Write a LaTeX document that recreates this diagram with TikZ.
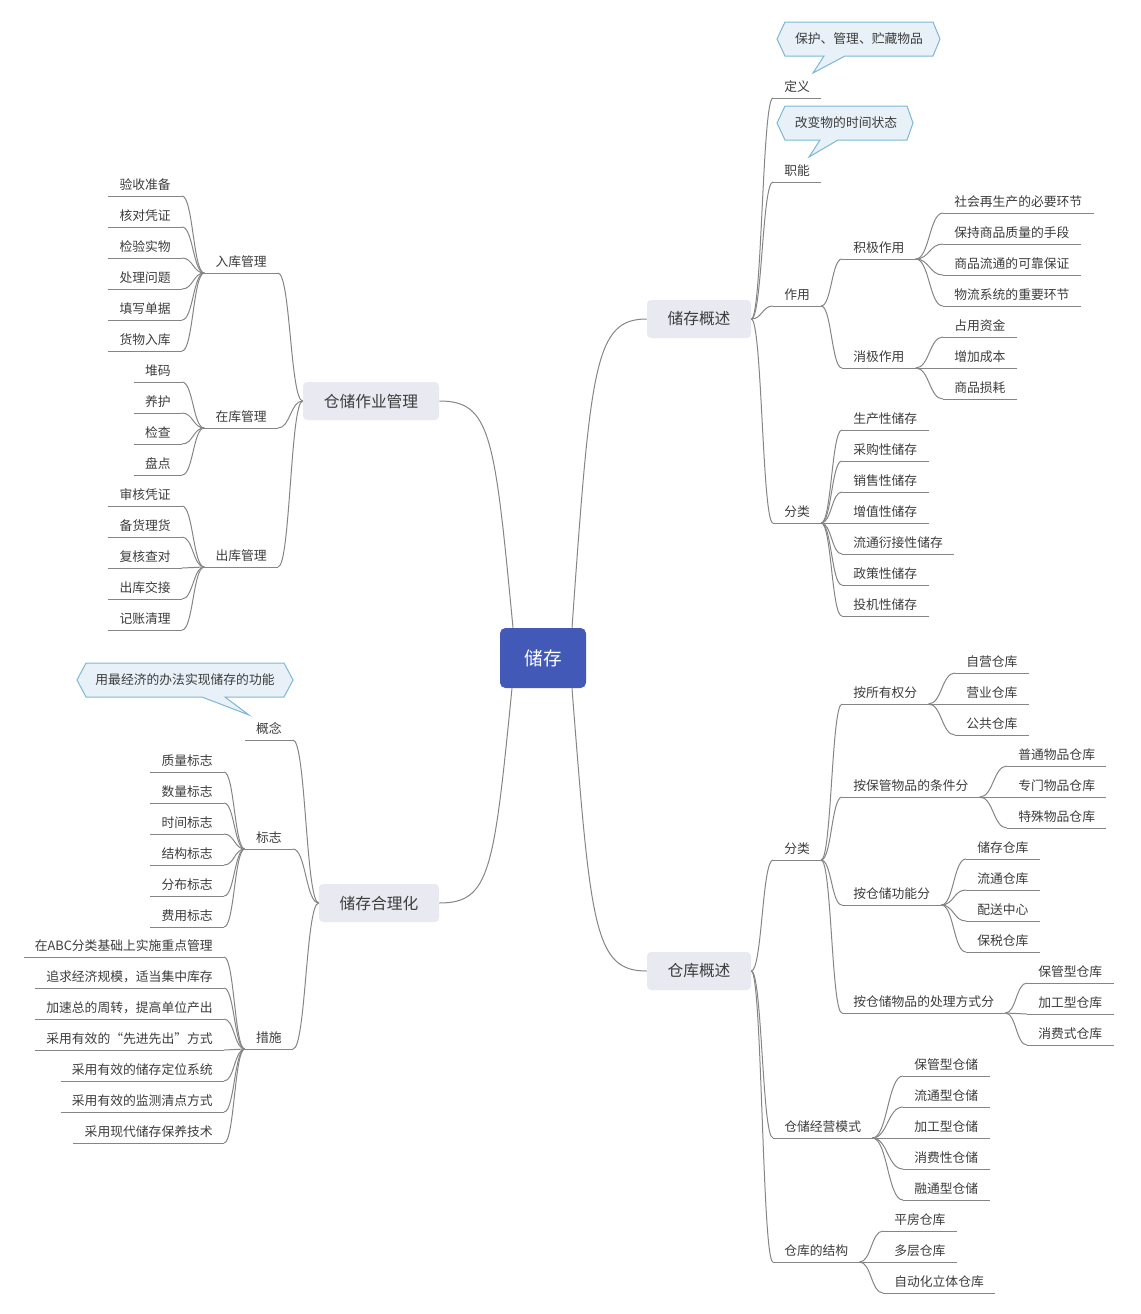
\documentclass[tikz,border=0pt]{standalone}
\usepackage{fontspec}
\setmainfont{Noto Sans CJK SC}
\usetikzlibrary{calc}
\definecolor{txt}{HTML}{3C3C3C}
\definecolor{lc}{HTML}{858585}
\definecolor{rootc}{HTML}{4259B8}
\definecolor{topc}{HTML}{E8E9F1}
\definecolor{cfill}{HTML}{E8F1F8}
\definecolor{cline}{HTML}{7DB7D5}
\newcommand\mmR[4]{\node[leaf,anchor=south west] (#1) at (#2,#3) {#4}; \draw[uline] (#1.south west) -- (#1.south east);}
\newcommand\mmL[4]{\node[leaf,anchor=south east] (#1) at (#2,#3) {#4}; \draw[uline] (#1.south west) -- (#1.south east);}
\tikzset{
  leaf/.style={font=\fontsize{9.6pt}{11pt}\selectfont, text=txt, inner xsep=8.25pt, inner ysep=0pt, text height=9pt, text depth=4.5pt},
  uline/.style={draw=lc, line width=0.75pt},
  conn/.style={draw=lc, line width=0.75pt, to path={let \p1=(\tikztostart), \p2=(\tikztotarget) in .. controls ({(\x1+\x2)/2},\y1) and ({(\x1+\x2)/2},\y2) .. (\p2)}},
  connroot/.style={draw=lc, line width=0.75pt, to path={let \p1=(\tikztostart), \p2=(\tikztotarget) in .. controls ({\x1+0.25*(\x2-\x1)},{\y1+0.85*(\y2-\y1)}) and ({\x1+0.3*(\x2-\x1)},\y2) .. (\p2)}},
  topic/.style={rounded corners=3pt, fill=topc, minimum height=28.5pt, inner sep=0pt, font=\fontsize{11.8pt}{14pt}\selectfont, text=txt},
  rootbox/.style={rounded corners=4pt, fill=rootc, minimum width=64.5pt, minimum height=45pt, inner sep=0pt, font=\fontsize{14pt}{16pt}\selectfont, text=white},
  callout/.style={fill=cfill, draw=cline, line width=0.75pt, line join=miter},
  calltext/.style={font=\fontsize{9.6pt}{11pt}\selectfont, text=txt, inner sep=0pt}
}
\begin{document}
\begin{tikzpicture}[x=0.75pt,y=-0.75pt]
\useasboundingbox (0,0) rectangle (1140,1314);
% callouts
\draw[callout] (777,39) -- (785,22) -- (933,22) -- (940,39) -- (933,56) -- (845,56) -- (813,73) -- (824,56) -- (785,56) -- cycle;
\node[calltext] (co1) at (859,39) {保护、管理、贮藏物品};
\draw[callout] (777,123) -- (785,106) -- (907,106) -- (913,123) -- (907,140) -- (838,140) -- (809,157) -- (820,140) -- (785,140) -- cycle;
\node[calltext] (co2) at (846,123) {改变物的时间状态};
\draw[callout] (77,680) -- (86,663) -- (284,663) -- (293,680) -- (284,697) -- (225,697) -- (249,715) -- (202,697) -- (86,697) -- cycle;
\node[calltext] (co3) at (185,680) {用最经济的办法实现储存的功能};
% main nodes
\node[rootbox] (root) at (543,658) {储存};
\node[topic, minimum width=78pt] (t1) at (699,319) {储存概述};
\node[topic, minimum width=78pt] (t2) at (699,971) {仓库概述};
\node[topic, minimum width=102pt] (t3) at (371,401) {仓储作业管理};
\node[topic, minimum width=90pt] (t4) at (379,903) {储存合理化};
\draw[connroot] ($(root.north)+(29,0)$) to (t1.west);
\draw[connroot] ($(root.north)+(-30,0)$) to (t3.east);
\draw[connroot] ($(root.south)+(-31,0)$) to (t4.east);
\draw[connroot] ($(root.south)+(29,0)$) to (t2.west);
% ---- t1 subtree
\mmR{d1}{773}{98}{定义}
\mmR{d2}{773}{182}{职能}
\mmR{d3}{773}{306}{作用}
\mmR{d4}{773}{523}{分类}
\mmR{e1}{842}{259}{积极作用}
\mmR{e2}{842}{368}{消极作用}
\mmR{f1}{943}{213}{社会再生产的必要环节}
\mmR{f2}{943}{244}{保持商品质量的手段}
\mmR{f3}{943}{275}{商品流通的可靠保证}
\mmR{f4}{943}{306}{物流系统的重要环节}
\mmR{g1}{943}{337}{占用资金}
\mmR{g2}{943}{368}{增加成本}
\mmR{g3}{943}{399}{商品损耗}
\mmR{h1}{842}{430}{生产性储存}
\mmR{h2}{842}{461}{采购性储存}
\mmR{h3}{842}{492}{销售性储存}
\mmR{h4}{842}{523}{增值性储存}
\mmR{h5}{842}{554}{流通衍接性储存}
\mmR{h6}{842}{585}{政策性储存}
\mmR{h7}{842}{616}{投机性储存}
\foreach \c in {d1,d2,d3,d4} \draw[conn] (t1.east) to (\c.south west);
\foreach \c in {e1,e2} \draw[conn] (d3.south east) to (\c.south west);
\foreach \c in {f1,f2,f3,f4} \draw[conn] (e1.south east) to (\c.south west);
\foreach \c in {g1,g2,g3} \draw[conn] (e2.south east) to (\c.south west);
\foreach \c in {h1,h2,h3,h4,h5,h6,h7} \draw[conn] (d4.south east) to (\c.south west);
% ---- t2 subtree
\mmR{k1}{773}{860}{分类}
\mmR{k2}{773}{1138}{仓储经营模式}
\mmR{k3}{773}{1262}{仓库的结构}
\mmR{m1}{842}{704}{按所有权分}
\mmR{m2}{842}{797}{按保管物品的条件分}
\mmR{m3}{842}{905}{按仓储功能分}
\mmR{m4}{842}{1013}{按仓储物品的处理方式分}
\mmR{n1}{955}{673}{自营仓库}
\mmR{n2}{955}{704}{营业仓库}
\mmR{n3}{955}{735}{公共仓库}
\mmR{o1}{1007}{766}{普通物品仓库}
\mmR{o2}{1007}{797}{专门物品仓库}
\mmR{o3}{1007}{828}{特殊物品仓库}
\mmR{p1}{966}{859}{储存仓库}
\mmR{p2}{966}{890}{流通仓库}
\mmR{p3}{966}{921}{配送中心}
\mmR{p4}{966}{952}{保税仓库}
\mmR{q1}{1027}{983}{保管型仓库}
\mmR{q2}{1027}{1014}{加工型仓库}
\mmR{q3}{1027}{1045}{消费式仓库}
\mmR{r1}{903}{1076}{保管型仓储}
\mmR{r2}{903}{1107}{流通型仓储}
\mmR{r3}{903}{1138}{加工型仓储}
\mmR{r4}{903}{1169}{消费性仓储}
\mmR{r5}{903}{1200}{融通型仓储}
\mmR{s1}{883}{1231}{平房仓库}
\mmR{s2}{883}{1262}{多层仓库}
\mmR{s3}{883}{1293}{自动化立体仓库}
\foreach \c in {k1,k2,k3} \draw[conn] (t2.east) to (\c.south west);
\foreach \c in {m1,m2,m3,m4} \draw[conn] (k1.south east) to (\c.south west);
\foreach \c in {n1,n2,n3} \draw[conn] (m1.south east) to (\c.south west);
\foreach \c in {o1,o2,o3} \draw[conn] (m2.south east) to (\c.south west);
\foreach \c in {p1,p2,p3,p4} \draw[conn] (m3.south east) to (\c.south west);
\foreach \c in {q1,q2,q3} \draw[conn] (m4.south east) to (\c.south west);
\foreach \c in {r1,r2,r3,r4,r5} \draw[conn] (k2.south east) to (\c.south west);
\foreach \c in {s1,s2,s3} \draw[conn] (k3.south east) to (\c.south west);
% ---- t3 subtree
\mmL{a1}{278}{273}{入库管理}
\mmL{a2}{278}{428}{在库管理}
\mmL{a3}{278}{567}{出库管理}
\mmL{bb1}{182}{196}{验收准备}
\mmL{bb2}{182}{227}{核对凭证}
\mmL{bb3}{182}{258}{检验实物}
\mmL{bb4}{182}{289}{处理问题}
\mmL{bb5}{182}{320}{填写单据}
\mmL{bb6}{182}{351}{货物入库}
\mmL{cc1}{182}{382}{堆码}
\mmL{cc2}{182}{413}{养护}
\mmL{cc3}{182}{444}{检查}
\mmL{cc4}{182}{475}{盘点}
\mmL{dd1}{182}{506}{审核凭证}
\mmL{dd2}{182}{537}{备货理货}
\mmL{dd3}{182}{568}{复核查对}
\mmL{dd4}{182}{599}{出库交接}
\mmL{dd5}{182}{630}{记账清理}
\foreach \c in {a1,a2,a3} \draw[conn] (t3.west) to (\c.south east);
\foreach \c in {bb1,bb2,bb3,bb4,bb5,bb6} \draw[conn] (a1.south west) to (\c.south east);
\foreach \c in {cc1,cc2,cc3,cc4} \draw[conn] (a2.south west) to (\c.south east);
\foreach \c in {dd1,dd2,dd3,dd4,dd5} \draw[conn] (a3.south west) to (\c.south east);
% ---- t4 subtree
\mmL{u1}{293}{740}{概念}
\mmL{u2}{293}{849}{标志}
\mmL{u3}{293}{1049}{措施}
\mmL{v1}{224}{772}{质量标志}
\mmL{v2}{224}{803}{数量标志}
\mmL{v3}{224}{834}{时间标志}
\mmL{v4}{224}{865}{结构标志}
\mmL{v5}{224}{896}{分布标志}
\mmL{v6}{224}{927}{费用标志}
\mmL{w1}{224}{957}{在ABC分类基础上实施重点管理}
\mmL{w2}{224}{988}{追求经济规模，适当集中库存}
\mmL{w3}{224}{1019}{加速总的周转，提高单位产出}
\mmL{w4}{224}{1050}{采用有效的“先进先出”方式}
\mmL{w5}{224}{1081}{采用有效的储存定位系统}
\mmL{w6}{224}{1112}{采用有效的监测清点方式}
\mmL{w7}{224}{1143}{采用现代储存保养技术}
\foreach \c in {u1,u2,u3} \draw[conn] (t4.west) to (\c.south east);
\foreach \c in {v1,v2,v3,v4,v5,v6} \draw[conn] (u2.south west) to (\c.south east);
\foreach \c in {w1,w2,w3,w4,w5,w6,w7} \draw[conn] (u3.south west) to (\c.south east);
\end{tikzpicture}
\end{document}
